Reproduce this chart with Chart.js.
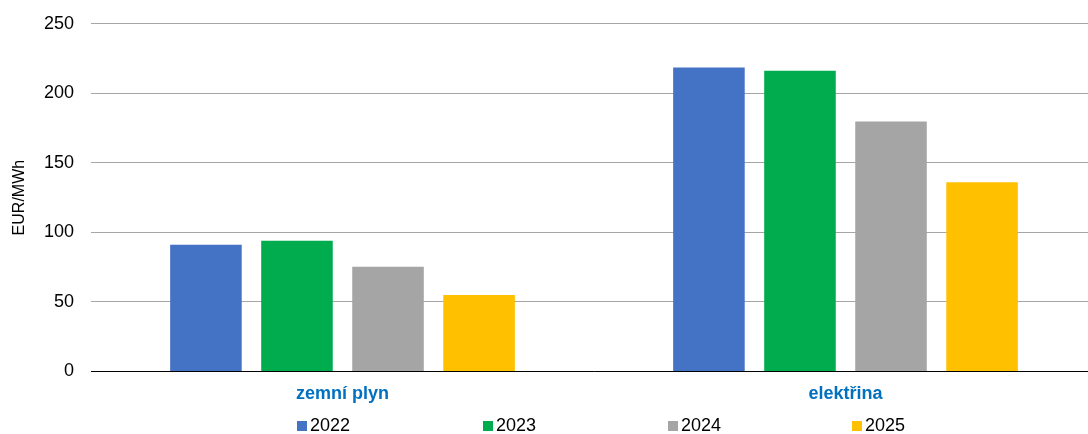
<!DOCTYPE html>
<html>
<head>
<meta charset="utf-8">
<script src="https://cdn.jsdelivr.net/npm/chart.js@4"></script>
<style>
    html, body { margin: 0; padding: 0; background: #fff; }
    #wrap { position: relative; width: 1088px; height: 434px; overflow: hidden; }
    #box { position: absolute; left: 0; top: -4px; width: 1097px; height: 438px; }
    #legend { position: absolute; top: 415px; left: 0; width: 1088px; height: 20px;
        font-family: "Liberation Sans", Arial, sans-serif; font-size: 18px; color: #000; }
    .item { position: absolute; top: 0; display: flex; align-items: center; height: 20px; }
    .sw { width: 10px; height: 10px; margin-right: 3px; margin-top: 2px; }
</style>
</head>
<body>
<div id="wrap">
    <div id="box"><canvas id="chart"></canvas></div>
    <div id="legend"></div>
</div>
<script>
const categories = ['zemní plyn', 'elektřina'];
const years = ['2022', '2023', '2024', '2025'];
const values2022 = [91.1, 218.5];
const values2023 = [94.0, 216.2];
const values2024 = [75.3, 179.7];
const values2025 = [54.9, 136.1];
const yTicks = [0, 50, 100, 150, 200, 250];

const colors = ['#4472C4', '#00AC4E', '#A5A5A5', '#FFC000'];
const series = [values2022, values2023, values2024, values2025];

// legend is laid out by hand, spread out like the original
const legendX = [297, 483, 668, 852];
const legendEl = document.getElementById('legend');
years.forEach((y, i) => {
    const it = document.createElement('div');
    it.className = 'item';
    it.style.left = legendX[i] + 'px';
    it.innerHTML = '<span class="sw" style="background:' + colors[i] + '"></span><span>' + y + '</span>';
    legendEl.appendChild(it);
});

const ctx = document.getElementById('chart').getContext('2d');
new Chart(ctx, {
    type: 'bar',
    data: {
        labels: categories,
        datasets: years.map((y, i) => ({
            label: y,
            data: series[i],
            backgroundColor: colors[i],
            categoryPercentage: 0.724,
            barPercentage: 0.786
        }))
    },
    options: {
        responsive: true,
        maintainAspectRatio: false,
        animation: false,
        layout: { padding: { top: 6, bottom: 17, left: 10, right: 0 } },
        plugins: {
            legend: { display: false },
            tooltip: { enabled: false }
        },
        scales: {
            x: {
                grid: { display: false, drawTicks: false },
                border: { display: true, color: '#000', width: 1 },
                ticks: {
                    color: '#0070C0',
                    padding: 12,
                    font: { family: 'Liberation Sans', size: 18, weight: 'bold' }
                }
            },
            y: {
                min: 0,
                max: 250,
                afterBuildTicks: axis => { axis.ticks = yTicks.map(v => ({ value: v })); },
                afterFit: axis => { axis.width = 81; },
                grid: { color: '#A6A6A6', drawTicks: false },
                border: { display: false },
                ticks: {
                    color: '#000',
                    padding: 17,
                    font: { family: 'Liberation Sans', size: 18 }
                },
                title: {
                    display: true,
                    text: 'EUR/MWh',
                    color: '#000',
                    padding: { top: 0, bottom: 0 },
                    font: { family: 'Liberation Sans', size: 16 }
                }
            }
        }
    }
});
</script>
</body>
</html>
